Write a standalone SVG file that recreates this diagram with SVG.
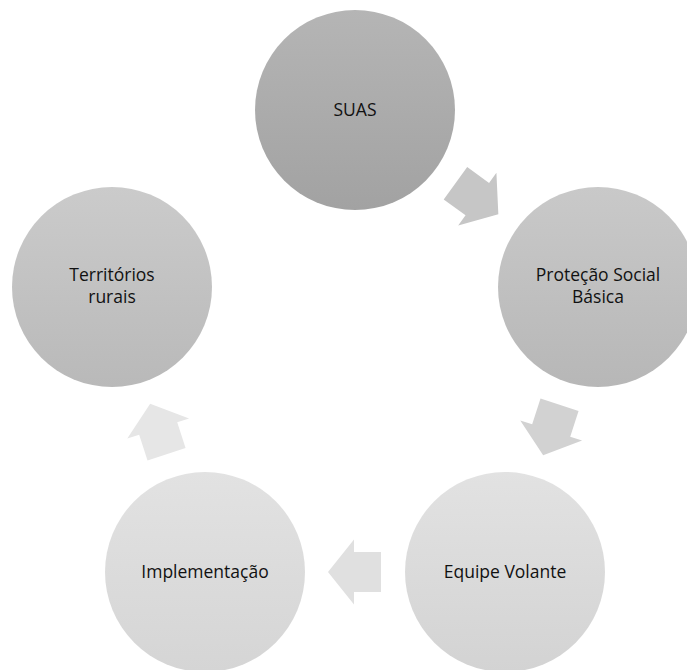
<svg xmlns="http://www.w3.org/2000/svg" width="687" height="670" viewBox="0 0 687 670">
  <defs>
    <linearGradient id="g1" x1="0" y1="0" x2="0" y2="1"><stop offset="0" stop-color="#b5b5b5"/><stop offset="1" stop-color="#a2a2a2"/></linearGradient>
    <linearGradient id="g2" x1="0" y1="0" x2="0" y2="1"><stop offset="0" stop-color="#c9c9c9"/><stop offset="1" stop-color="#b7b7b7"/></linearGradient>
    <linearGradient id="g3" x1="0" y1="0" x2="0" y2="1"><stop offset="0" stop-color="#e2e2e2"/><stop offset="1" stop-color="#d3d3d3"/></linearGradient>
    <linearGradient id="g4" x1="0" y1="0" x2="0" y2="1"><stop offset="0" stop-color="#e2e2e2"/><stop offset="1" stop-color="#d5d5d5"/></linearGradient>
    <linearGradient id="g5" x1="0" y1="0" x2="0" y2="1"><stop offset="0" stop-color="#cbcbcb"/><stop offset="1" stop-color="#b9b9b9"/></linearGradient>
    <polygon id="arr" points="-26,-20 1,-20 1,-32.5 27,0 1,32.5 1,20 -26,20"/>
  </defs>
  <style>
    text { font-family: "Open Sans", "Noto Sans", "Liberation Sans", sans-serif; font-size: 17.5px; fill: #111111; text-anchor: middle; }
  </style>
  <rect width="687" height="670" fill="#ffffff"/>
  <g id="connectors">
    <use href="#arr" transform="translate(476.5,198.5) rotate(36)" fill="#c6c6c6"/>
    <use href="#arr" transform="translate(551.5,429.5) rotate(108)" fill="#d2d2d2"/>
    <use href="#arr" transform="translate(355,572) rotate(180)" fill="#e0e0e0"/>
    <use href="#arr" transform="translate(158.5,429.5) rotate(252)" fill="#e6e6e6"/>
  </g>
  <g id="suas">
    <circle cx="355" cy="110" r="100" fill="url(#g1)"/>
    <text x="355" y="116">SUAS</text>
  </g>
  <g id="protecao">
    <circle cx="598" cy="287" r="100" fill="url(#g2)"/>
    <text x="598" y="281">Proteção Social</text>
    <text x="598" y="303">Básica</text>
  </g>
  <g id="equipe">
    <circle cx="505" cy="572" r="100" fill="url(#g3)"/>
    <text x="505" y="578">Equipe Volante</text>
  </g>
  <g id="implementacao">
    <circle cx="205" cy="572" r="100" fill="url(#g4)"/>
    <text x="205" y="578">Implementação</text>
  </g>
  <g id="territorios">
    <circle cx="112" cy="287" r="100" fill="url(#g5)"/>
    <text x="112" y="281">Territórios</text>
    <text x="112" y="303">rurais</text>
  </g>
</svg>
